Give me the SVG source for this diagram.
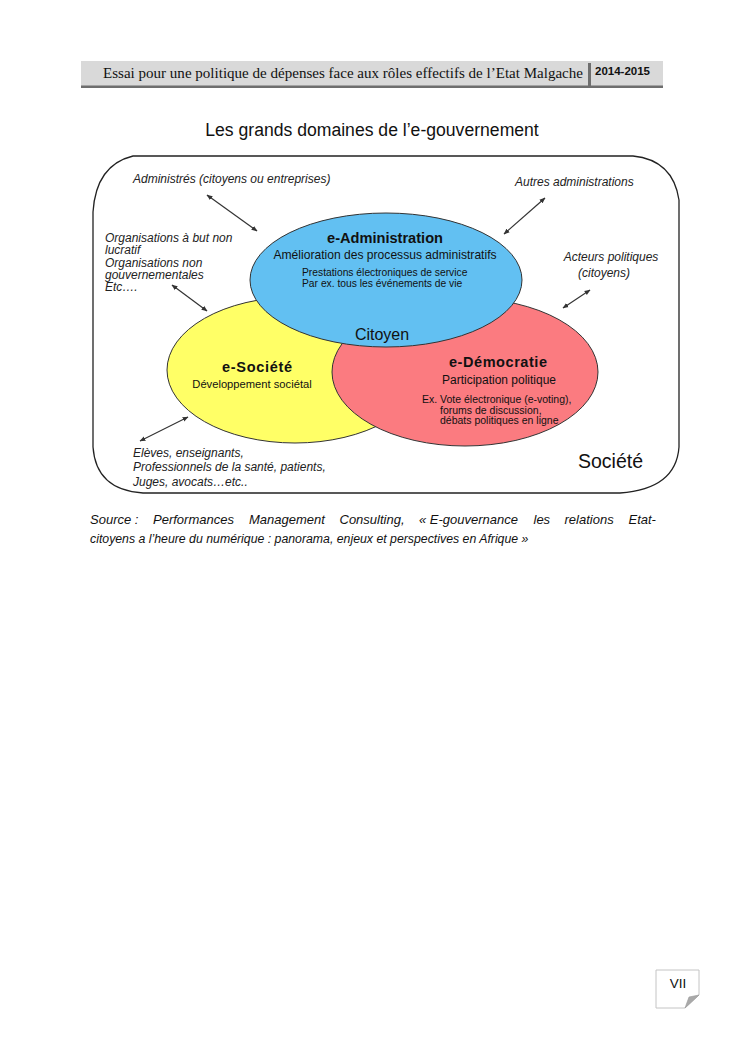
<svg xmlns="http://www.w3.org/2000/svg" width="745" height="1053" viewBox="0 0 745 1053">
<style>
.sans{font-family:"Liberation Sans",Arial,sans-serif;fill:#111}
.it{font-family:"Liberation Sans",Arial,sans-serif;font-style:italic;font-size:12px;fill:#222}
.b{font-weight:bold}
.ell{stroke:#333;stroke-width:1}
.conn{stroke:#333;stroke-width:1.2;fill:none;marker-start:url(#ah);marker-end:url(#ah)}
</style>
<defs>
<marker id="ah" viewBox="0 0 10 10" refX="9" refY="5" markerWidth="6" markerHeight="6" orient="auto-start-reverse" markerUnits="userSpaceOnUse">
<path d="M0,1 L10,5 L0,9 Z" fill="#333"/>
</marker>
</defs>
<rect width="745" height="1053" fill="#fff"/>

<g id="header">
<rect x="81" y="61" width="582" height="26" fill="#d9d9d9"/>
<rect x="81" y="85.5" width="582" height="2.5" fill="#6e6e6e"/>
<rect x="588" y="63" width="3" height="25" fill="#6e6e6e"/>
<text x="103" y="78" font-family="Liberation Serif,serif" font-size="13.8" fill="#111" textLength="480" lengthAdjust="spacingAndGlyphs">Essai pour une politique de dépenses face aux rôles effectifs de l’Etat Malgache</text>
<text x="595" y="75" class="sans b" font-size="11.5">2014-2015</text>
</g>

<text x="372" y="136" class="sans" font-size="17.6" text-anchor="middle">Les grands domaines de l’e-gouvernement</text>

<g id="societe-frame">
<path d="M133,156 L633,156 Q673,160 679,200 L679,447 Q676,489 620,493 L143,493 Q96,490 93,447 L93,212 Q96,165 133,156 Z" fill="#fff" stroke="#222" stroke-width="1.3"/>
<text x="578" y="468" class="sans" font-size="19.5">Société</text>
</g>

<g id="e-societe">
<ellipse cx="295" cy="370" rx="128" ry="73" fill="#ffff66" class="ell"/>
<text x="257" y="372" class="sans b" font-size="14.5" text-anchor="middle" textLength="70">e-Société</text>
<text x="252" y="388" class="sans" font-size="11.2" text-anchor="middle">Développement sociétal</text>
</g>

<g id="e-democratie">
<ellipse cx="465" cy="372" rx="133" ry="74" fill="#fb7b80" class="ell"/>
<text x="498" y="367" class="sans b" font-size="14.5" text-anchor="middle" textLength="98">e-Démocratie</text>
<text x="499" y="384" class="sans" font-size="12" text-anchor="middle">Participation politique</text>
<text class="sans" font-size="10.5"><tspan x="422" y="403">Ex. Vote électronique (e-voting),</tspan><tspan x="440" y="413.5">forums de discussion,</tspan><tspan x="440" y="424">débats politiques en ligne</tspan></text>
</g>

<g id="e-administration">
<ellipse cx="386" cy="280" rx="136" ry="67" fill="#62c0f2" class="ell"/>
<text x="385" y="243" class="sans b" font-size="14.6" text-anchor="middle">e-Administration</text>
<text x="385" y="259" class="sans" font-size="12.1" text-anchor="middle">Amélioration des processus administratifs</text>
<text class="sans" font-size="10.3"><tspan x="302" y="276">Prestations électroniques de service</tspan><tspan x="302" y="287">Par ex. tous les événements de vie</tspan></text>
<text x="382" y="340" class="sans" font-size="16" text-anchor="middle">Citoyen</text>
</g>

<g id="label-administres">
<text x="133" y="183" class="it">Administrés (citoyens ou entreprises)</text>
</g>
<g id="label-organisations">
<text class="it"><tspan x="105" y="242">Organisations à but non</tspan><tspan x="105" y="254">lucratif</tspan><tspan x="105" y="266.5">Organisations non</tspan><tspan x="105" y="279">gouvernementales</tspan><tspan x="105" y="291">Etc….</tspan></text>
</g>
<g id="label-autres">
<text x="515" y="186" class="it">Autres administrations</text>
</g>
<g id="label-acteurs">
<text class="it" text-anchor="middle"><tspan x="611" y="261">Acteurs politiques</tspan><tspan x="604" y="277">(citoyens)</tspan></text>
</g>
<g id="label-eleves">
<text class="it"><tspan x="133" y="457">Elèves, enseignants,</tspan><tspan x="133" y="471">Professionnels de la santé, patients,</tspan><tspan x="133" y="486">Juges, avocats…etc..</tspan></text>
</g>

<g id="connectors">
<line x1="207" y1="195" x2="257" y2="231" class="conn"/>
<line x1="172" y1="285" x2="207" y2="311" class="conn"/>
<line x1="545" y1="198" x2="504" y2="234" class="conn"/>
<line x1="590" y1="290" x2="563" y2="308" class="conn"/>
<line x1="140" y1="441" x2="188" y2="417" class="conn"/>
</g>

<g id="source" font-family="Liberation Sans,Arial,sans-serif" font-style="italic" font-size="13" fill="#111">
<text y="524"><tspan x="90">Source :</tspan><tspan x="153">Performances</tspan><tspan x="249">Management</tspan><tspan x="339.5">Consulting,</tspan><tspan x="419">« E-gouvernance</tspan><tspan x="533.5">les</tspan><tspan x="564.5">relations</tspan><tspan x="628.5">Etat-</tspan></text>
<text x="90" y="543" font-size="12.3">citoyens a l’heure du numérique : panorama, enjeux et perspectives en Afrique »</text>
</g>

<g id="page-number">
<path d="M656,970 L699,970 L699,995 L685,1008 L656,1008 Z" fill="#fff" stroke="#c4c4c4" stroke-width="1"/>
<path d="M685,1008 L699,995 L689,997 Z" fill="#a9a9a9" stroke="#999" stroke-width="0.6"/>
<text x="678" y="988" class="sans" font-size="13.5" text-anchor="middle">VII</text>
</g>
</svg>
